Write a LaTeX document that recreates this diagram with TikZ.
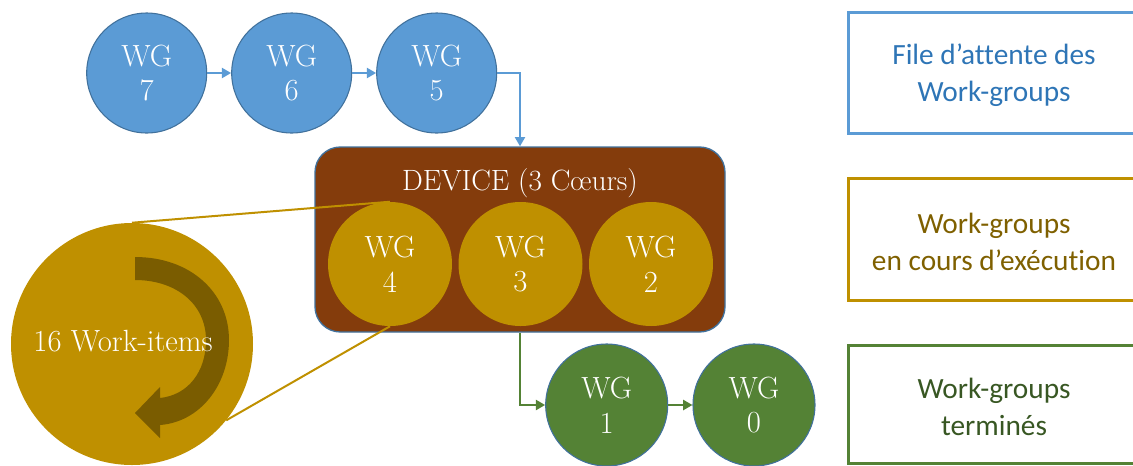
\documentclass[tikz,border=0pt]{standalone}
\usepackage{fontspec}
\newfontfamily\legendfont[Ligatures=NoCommon]{Carlito}
\usetikzlibrary{arrows.meta}
\definecolor{wgblue}{HTML}{5B9BD5}
\definecolor{wgedge}{HTML}{41719C}
\definecolor{wggold}{HTML}{BF9000}
\definecolor{wggreen}{HTML}{548235}
\definecolor{devbrown}{HTML}{843C0C}
\definecolor{bluetext}{HTML}{2E75B6}
\definecolor{goldtext}{HTML}{7F6000}
\definecolor{greentext}{HTML}{385723}
\definecolor{loopdark}{HTML}{6E5400}

\begin{document}
\begin{tikzpicture}[x=0.75pt,y=-0.75pt,
  wg/.style={circle, inner sep=0pt, text=white, align=center,
    font=\fontsize{23}{26}\selectfont},
  queued/.style={wg, fill=wgblue, draw=wgedge, line width=0.8pt, minimum size=90pt},
  running/.style={wg, fill=wggold, minimum size=93pt},
  done/.style={wg, fill=wggreen, draw=wgedge, line width=0.8pt, minimum size=91.5pt},
  device/.style={rectangle, rounded corners=19pt, fill=devbrown, draw=wgedge,
    line width=1pt, minimum width=307.5pt, minimum height=138.75pt},
  devtitle/.style={text=white, font=\fontsize{22}{26}\selectfont},
  legendbox/.style={rectangle, line width=2.25pt, minimum width=216pt},
  legendtext/.style={align=center, font=\legendfont\fontsize{22}{28}\selectfont},
  flow/.style={line width=2pt, -{Triangle[length=7pt,width=7.5pt]}},
  zoomline/.style={wggold, line width=1.5pt}
]
\useasboundingbox (0,0) rectangle (1133,465);
\begin{scope}
\clip (0,0) rectangle (1133,465);

% waiting queue
\node[queued] (wg7) at (146.7,73) {WG\\7};
\node[queued] (wg6) at (291.7,73) {WG\\6};
\node[queued] (wg5) at (436.7,73) {WG\\5};

% device with its three cores
\node[device] (dev) at (520,239.5) {};
\node[devtitle] (devt) at (520,183) {DEVICE (3 Cœurs)};
\node[running] (wg4) at (390,264) {WG\\4};
\node[running] (wg3) at (520.5,264) {WG\\3};
\node[running] (wg2) at (651,264) {WG\\2};

% finished work-groups
\node[done] (wg1) at (606.7,405) {WG\\1};
\node[done] (wg0) at (754,405) {WG\\0};

% detail of one work-group
\node[circle, fill=wggold, minimum size=181.5pt, inner sep=0pt] (big) at (132,344) {};
\fill[loopdark, opacity=0.85]
  (135,257) .. controls (190,257) and (229,292) .. (229,340)
  .. controls (229,385) and (200,422) .. (160,425)
  -- (160,438) -- (135,413) -- (160,387) -- (160,398)
  .. controls (188,395) and (206,372) .. (206,340)
  .. controls (206,304) and (176,280) .. (135,280) -- cycle;
\node[text=white, font=\fontsize{23}{26}\selectfont] (items) at (123,341) {16 Work-items};
\draw[zoomline] (big.north) -- (wg4.north);
\draw[zoomline] (big.-39) -- (wg4.south);

% flow between stages
\draw[flow, wgblue] (wg7) -- (wg6);
\draw[flow, wgblue] (wg6) -- (wg5);
\draw[flow, wgblue] (wg5.east) -| (dev.north);
\draw[flow, wggreen] (dev.south) |- (wg1.west);
\draw[flow, wggreen] (wg1) -- (wg0);

% legend
\node[legendbox, draw=wgblue, minimum height=90.75pt] (lq) at (992,72.5) {};
\node[legendtext, text=bluetext] (lqt) at (994,75) {File d’attente des\\Work-groups};
\node[legendbox, draw=wggold, minimum height=91.5pt] (lr) at (992,239) {};
\node[legendtext, text=goldtext] (lrt) at (994,242) {Work-groups\\en cours d’exécution};
\node[legendbox, draw=wggreen, minimum height=88.5pt] (ld) at (992,404) {};
\node[legendtext, text=greentext] (ldt) at (994,407) {Work-groups\\terminés};
\end{scope}
\end{tikzpicture}
\end{document}
